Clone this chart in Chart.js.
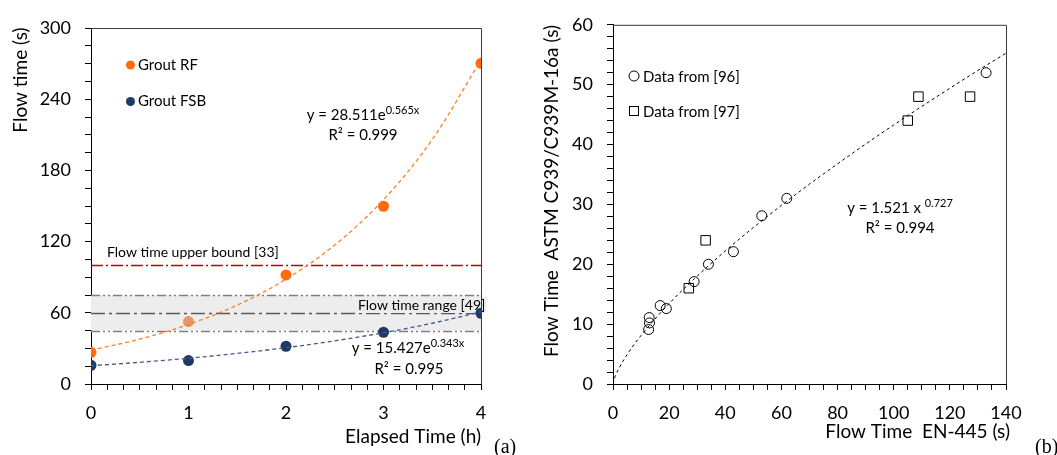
<!DOCTYPE html>
<html>
<head>
<meta charset="utf-8">
<script src="https://cdn.jsdelivr.net/npm/chart.js@4/dist/chart.umd.min.js"></script>
<style>
  body { margin: 0; background: #fff; }
  #wrap { position: relative; width: 1057px; height: 455px; background: #fff; }
  canvas { position: absolute; top: 0; }
</style>
</head>
<body>
<div id="wrap">
  <canvas id="chartA" width="530" height="455" style="left:0"></canvas>
  <canvas id="chartB" width="527" height="455" style="left:530px"></canvas>
</div>
<script>
// (a) flow time vs elapsed time
const elapsedHours = [0, 1, 2, 3, 4];
const groutRF = [26.7, 52.6, 91.9, 149.8, 270.2];
const groutFSB = [15.7, 19.7, 31.8, 43.6, 59.6];
const trendHours = [0, 0.5, 1, 1.5, 2, 2.5, 3, 3.5, 4];
const trendRF = [28.5, 37.8, 50.2, 66.5, 88.3, 117.1, 155.3, 206.0, 273.2];
const trendFSB = [15.4, 18.3, 21.7, 25.8, 30.6, 36.4, 43.2, 51.2, 60.8];
const upperBound = 100;
const flowRange = [45, 60, 75];
const hourTicks = [0, 1, 2, 3, 4];
const flowTicks = [0, 60, 120, 180, 240, 300];

// (b) ASTM vs EN-445
const en445Ref96 = [12.7, 12.9, 13.0, 16.8, 19.0, 28.9, 34.0, 42.9, 53.0, 61.9, 132.9];
const astmRef96 = [9.1, 11.1, 10.2, 13.1, 12.6, 17.1, 20.0, 22.1, 28.1, 31.0, 52.0];
const en445Ref97 = [27.0, 33.0, 105.0, 108.8, 127.2];
const astmRef97 = [16.0, 24.0, 44.0, 48.0, 48.0];
const trendEN = [0, 0.5, 1, 2, 5, 10, 20, 30, 40, 50, 60, 70, 80, 90, 100, 110, 120, 130, 140];
const trendASTM = [0, 0.92, 1.52, 2.52, 4.90, 8.11, 13.43, 18.03, 22.22, 26.14, 29.84, 33.39, 36.78, 40.08, 43.27, 46.37, 49.40, 52.37, 55.26];
const enTicks = [0, 20, 40, 60, 80, 100, 120, 140];
const astmTicks = [0, 10, 20, 30, 40, 50, 60];

const FONT = "Lato";

function pairs(xs, ys) {
  return xs.map((x, i) => ({ x: x, y: ys[i] }));
}

function withMinor(labels, parts) {
  const out = [];
  for (let i = 0; i < labels.length - 1; i++) {
    const step = (labels[i + 1] - labels[i]) / parts;
    for (let k = 0; k < parts; k++) {
      out.push(labels[i] + step * k);
    }
  }
  out.push(labels[labels.length - 1]);
  return out;
}

function isLabel(v, labels) {
  return labels.some((l) => Math.abs(l - v) < 1e-6);
}

function axis(labels, parts, size, extra) {
  return Object.assign({
    type: "linear",
    min: labels[0],
    max: labels[labels.length - 1],
    afterBuildTicks: (scale) => {
      scale.ticks = withMinor(labels, parts).map((v) => ({ value: v }));
    },
    ticks: {
      autoSkip: false,
      maxRotation: 0,
      color: "#000",
      font: { family: FONT, size: 18 },
      callback: (v) => (isLabel(v, labels) ? String(Math.round(v)) : ""),
    },
    grid: { drawOnChartArea: false, drawTicks: true, tickLength: 6, color: "#000" },
    border: { color: "#000", width: 1 },
    afterFit: (scale) => {
      if (scale.isHorizontal()) {
        scale.height = size;
      } else {
        scale.width = size;
      }
    },
  }, extra);
}

function drawBox(chart) {
  const ctx = chart.ctx;
  const a = chart.chartArea;
  ctx.save();
  ctx.strokeStyle = "#3a3a3a";
  ctx.lineWidth = 1;
  ctx.beginPath();
  ctx.moveTo(a.left, a.top + 0.5);
  ctx.lineTo(a.right + 0.5, a.top + 0.5);
  ctx.lineTo(a.right + 0.5, a.bottom);
  ctx.stroke();
  ctx.restore();
}

function text(ctx, str, x, y, size, align, family) {
  ctx.font = size + "px " + (family || FONT);
  ctx.textAlign = align || "left";
  ctx.textBaseline = "alphabetic";
  ctx.fillStyle = "#000";
  ctx.fillText(str, x, y);
}

function supText(ctx, main, sup, cx, y, size) {
  ctx.font = size + "px " + FONT;
  const w1 = ctx.measureText(main).width;
  ctx.font = Math.round(size * 0.72) + "px " + FONT;
  const w2 = ctx.measureText(sup).width;
  const x = cx - (w1 + w2) / 2;
  text(ctx, main, x, y, size, "left");
  text(ctx, sup, x + w1, y - size * 0.38, Math.round(size * 0.72), "left");
}

function vtext(ctx, str, x, y, size) {
  ctx.save();
  ctx.translate(x, y);
  ctx.rotate(-Math.PI / 2);
  ctx.font = size + "px " + FONT;
  ctx.textAlign = "center";
  ctx.textBaseline = "middle";
  ctx.fillStyle = "#000";
  ctx.fillText(str, 0, 0);
  ctx.restore();
}

function hline(ctx, chart, value, color, dash, width) {
  const y = Math.round(chart.scales.y.getPixelForValue(value)) + 0.5;
  ctx.save();
  ctx.strokeStyle = color;
  ctx.lineWidth = width;
  ctx.setLineDash(dash);
  ctx.beginPath();
  ctx.moveTo(chart.chartArea.left, y);
  ctx.lineTo(chart.chartArea.right, y);
  ctx.stroke();
  ctx.restore();
}

const decorA = {
  id: "decorA",
  beforeDatasetsDraw(chart) {
    const ctx = chart.ctx;
    const a = chart.chartArea;
    const ys = chart.scales.y;
    const top = ys.getPixelForValue(flowRange[2]);
    const bottom = ys.getPixelForValue(flowRange[0]);
    ctx.fillStyle = "#ededed";
    ctx.fillRect(a.left, top, a.right - a.left, bottom - top);
    hline(ctx, chart, flowRange[2], "#7f7f7f", [9, 3, 2, 3, 2, 3], 1.5);
    hline(ctx, chart, flowRange[0], "#7f7f7f", [9, 3, 2, 3, 2, 3], 1.5);
    hline(ctx, chart, flowRange[1], "#595959", [14, 4, 3, 4], 1.5);
    hline(ctx, chart, upperBound, "#c00000", [12, 3, 2, 3], 1.5);

    ctx.font = "14px " + FONT;
    const lw = ctx.measureText("Flow time range [49]").width;
    ctx.fillStyle = "#ededed";
    ctx.fillRect(357, 297, lw + 2, 16);
    text(ctx, "Flow time range [49]", 358, 310, 14);
    text(ctx, "Flow time upper bound [33]", 107, 257, 14);
  },
  afterDraw(chart) {
    const ctx = chart.ctx;
    drawBox(chart);

    // legend
    ctx.fillStyle = "#ff6a0d";
    ctx.beginPath();
    ctx.arc(130.5, 65, 4.5, 0, Math.PI * 2);
    ctx.fill();
    ctx.fillStyle = "#1f3864";
    ctx.beginPath();
    ctx.arc(130.5, 101.5, 4.5, 0, Math.PI * 2);
    ctx.fill();
    text(ctx, "Grout RF", 138, 70, 15);
    text(ctx, "Grout FSB", 138, 106, 15);

    supText(ctx, "y = 28.511e", "0.565x", 363, 120, 15);
    text(ctx, "R\u00b2 = 0.999", 363, 140, 15, "center");
    supText(ctx, "y = 15.427e", "0.343x", 408, 353, 15);
    text(ctx, "R\u00b2 = 0.995", 409, 374, 15, "center");

    vtext(ctx, "Flow time (s)", 21, 80, 19);
    text(ctx, "Elapsed Time (h)", 481, 443, 19, "right");
    text(ctx, "(a)", 494, 453, 20, "left", "Liberation Serif");
  },
};

const decorB = {
  id: "decorB",
  afterDraw(chart) {
    const ctx = chart.ctx;
    drawBox(chart);

    ctx.strokeStyle = "#000";
    ctx.lineWidth = 1;
    ctx.beginPath();
    ctx.arc(104, 76, 5, 0, Math.PI * 2);
    ctx.stroke();
    ctx.strokeRect(99.5, 106.5, 9, 9);
    text(ctx, "Data from [96]", 113, 82, 15);
    text(ctx, "Data from [97]", 113, 117, 15);

    supText(ctx, "y = 1.521 x ", "0.727", 370, 213, 15);
    text(ctx, "R\u00b2 = 0.994", 370, 233, 15, "center");

    vtext(ctx, "Flow Time  ASTM C939/C939M-16a (s)", 22, 191, 19);
    text(ctx, "Flow Time  EN-445 (s)", 480, 438, 19, "right");
    text(ctx, "(b)", 505, 453, 20, "left", "Liberation Serif");
  },
};

function renderElapsedChart() {
  new Chart(document.getElementById("chartA"), {
    type: "scatter",
    data: {
      datasets: [
        {
          data: pairs(trendHours, trendRF),
          showLine: true,
          borderColor: "#ff7f27",
          borderWidth: 1.3,
          borderDash: [4, 3],
          pointRadius: 0,
          cubicInterpolationMode: "monotone",
        },
        {
          data: pairs(trendHours, trendFSB),
          showLine: true,
          borderColor: "#44598a",
          borderWidth: 1.3,
          borderDash: [4, 3],
          pointRadius: 0,
          cubicInterpolationMode: "monotone",
        },
        {
          label: "Grout RF",
          data: pairs(elapsedHours, groutRF),
          pointRadius: 5.5,
          pointBorderWidth: 0,
          pointBackgroundColor: ["#ff6a0d", "#e8946a", "#ff6a0d", "#ff6a0d", "#ff6a0d"],
        },
        {
          label: "Grout FSB",
          data: pairs(elapsedHours, groutFSB),
          pointRadius: 5.5,
          pointBorderWidth: 0,
          pointBackgroundColor: "#1f3864",
        },
      ],
    },
    options: {
      responsive: false,
      animation: false,
      layout: { padding: { left: 0, right: 49, top: 28, bottom: 0 } },
      plugins: { legend: { display: false }, tooltip: { enabled: false } },
      scales: {
        x: axis(hourTicks, 6, 71, {}),
        y: axis(flowTicks, 4, 91, {}),
      },
    },
    plugins: [decorA],
  });
  const c = Chart.getChart("chartA");
  c.options.scales.x.ticks.padding = 12;
  c.options.scales.y.ticks.padding = 14;
  c.update();
}

function renderStandardsChart() {
  new Chart(document.getElementById("chartB"), {
    type: "scatter",
    data: {
      datasets: [
        {
          data: pairs(trendEN, trendASTM),
          showLine: true,
          borderColor: "#000",
          borderWidth: 1,
          borderDash: [3, 3],
          pointRadius: 0,
          cubicInterpolationMode: "monotone",
        },
        {
          label: "Data from [96]",
          data: pairs(en445Ref96, astmRef96),
          pointRadius: 5,
          pointStyle: "circle",
          pointBorderWidth: 1,
          pointBorderColor: "#000",
          pointBackgroundColor: "rgba(255,255,255,0)",
        },
        {
          label: "Data from [97]",
          data: pairs(en445Ref97, astmRef97),
          pointRadius: 6.7,
          pointStyle: "rect",
          pointBorderWidth: 1,
          pointBorderColor: "#000",
          pointBackgroundColor: "rgba(255,255,255,0)",
        },
      ],
    },
    options: {
      responsive: false,
      animation: false,
      layout: { padding: { left: 0, right: 51, top: 23, bottom: 0 } },
      plugins: { legend: { display: false }, tooltip: { enabled: false } },
      scales: {
        x: axis(enTicks, 4, 71, {}),
        y: axis(astmTicks, 5, 83, {}),
      },
    },
    plugins: [decorB],
  });
  const c = Chart.getChart("chartB");
  c.options.scales.x.ticks.padding = 12;
  c.options.scales.y.ticks.padding = 14;
  c.update();
}

renderElapsedChart();
renderStandardsChart();
</script>
</body>
</html>
